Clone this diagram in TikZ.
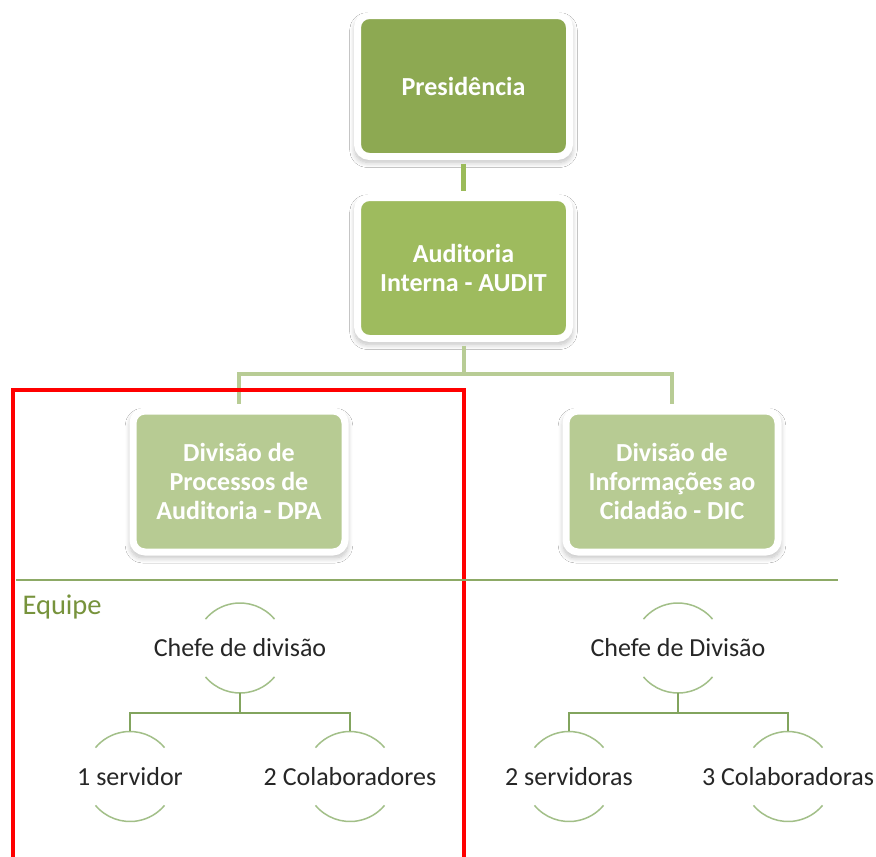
\documentclass[tikz,border=0pt]{standalone}
\usepackage{fontspec}
\setmainfont{Carlito}
\usetikzlibrary{shadows.blur}
\begin{document}
\begin{tikzpicture}[x=1pt, y=1pt,
  unitbox/.style={draw=white, line width=7pt, rounded corners=12pt, minimum width=212pt, minimum height=141pt, align=center, text=white, font=\fontsize{26}{29}\selectfont\bfseries, blur shadow={shadow xshift=0pt, shadow yshift=-4pt, shadow scale=1.025, shadow blur radius=5pt, shadow blur steps=10, shadow opacity=25}},
  teamnode/.style={rectangle, minimum height=90pt, inner sep=0pt, text=textcol, font=\fontsize{26}{30}\selectfont},
  arcline/.style={draw=arccol, line width=1.5pt},
  orgline/.style={draw=orgcol, line width=1.5pt}]
\definecolor{presicol}{HTML}{8DA952}
\definecolor{auditcol}{HTML}{9EBB5E}
\definecolor{divcol}{HTML}{B7CB93}
\definecolor{presline}{HTML}{9BBB59}
\definecolor{divline}{HTML}{B8CC95}
\definecolor{arccol}{HTML}{A2BF88}
\definecolor{orgcol}{HTML}{82A45E}
\definecolor{sepcol}{HTML}{8DAA66}
\definecolor{equipecol}{HTML}{77933C}
\definecolor{textcol}{HTML}{262626}
\useasboundingbox[fill=white] (0,0) rectangle (876,-857);
\node[unitbox, fill=presicol] (presid) at (463.5,-86) {Presidência};
\node[unitbox, fill=auditcol] (audit) at (463.5,-268) {Auditoria\\Interna - AUDIT};
\node[unitbox, fill=divcol] (dpa) at (239,-481.5) {Divisão de\\Processos de\\Auditoria - DPA};
\node[unitbox, fill=divcol] (dic) at (672,-481.5) {Divisão de\\Informações ao\\Cidadão - DIC};
\coordinate (split) at (463.5,-374);
\draw[presline, line width=5pt, shorten <=3.5pt, shorten >=3.5pt] (presid.south) -- (audit.north);
\draw[divline, line width=4pt, shorten <=3.5pt] (audit.south) -- (split);
\draw[divline, line width=4pt, shorten >=3.5pt] (split) -| (dpa.north);
\draw[divline, line width=4pt, shorten >=3.5pt] (split) -| (dic.north);
\draw[red, line width=4pt] (13,-870) -- (13,-390) -- (464,-390) -- (464,-870);
\draw[sepcol, line width=1.5pt] (16,-580) -- (838,-580);
\node[anchor=west, text=equipecol, font=\fontsize{28.5}{32}\selectfont] (equipe) at (19,-607) {Equipe};
\node[teamnode] (chefeA) at (240,-648) {Chefe de divisão};
\node[teamnode] (servA) at (130,-776.5) {1 servidor};
\node[teamnode] (colabA) at (350,-776.5) {2 Colaboradores};
\node[teamnode] (chefeB) at (678,-648) {Chefe de Divisão};
\node[teamnode] (servB) at (569,-776.5) {2 servidoras};
\node[teamnode] (colabB) at (788,-776.5) {3 Colaboradoras};
\foreach \n in {chefeA, servA, colabA, chefeB, servB, colabB} {
  \draw[arcline] ([shift={(40:45)}]\n.center) arc (40:140:45);
  \draw[arcline] ([shift={(220:45)}]\n.center) arc (220:320:45);
}
\draw[orgline] (chefeA.south) -- ++(0,-20) -| (servA.north);
\draw[orgline] (chefeA.south) -- ++(0,-20) -| (colabA.north);
\draw[orgline] (chefeB.south) -- ++(0,-20) -| (servB.north);
\draw[orgline] (chefeB.south) -- ++(0,-20) -| (colabB.north);
\end{tikzpicture}
\end{document}
